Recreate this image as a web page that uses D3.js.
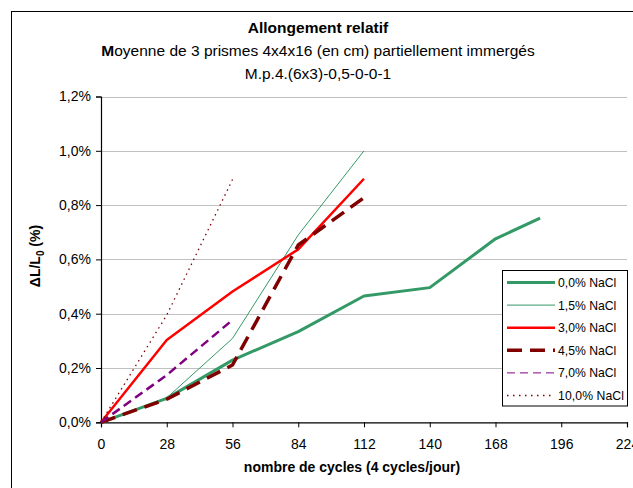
<!DOCTYPE html>
<html>
<head>
<meta charset="utf-8">
<script src="https://cdn.jsdelivr.net/npm/d3@7"></script>
<style>
  html, body { margin: 0; padding: 0; background: #fff; }
  svg { display: block; font-family: "Liberation Sans", Arial, sans-serif; }
</style>
</head>
<body>
<svg id="chart" width="633" height="488"></svg>
<script>
// Relative elongation (% of initial length) versus number of cycles, by NaCl concentration
const seriesNames = ["0,0% NaCl", "1,5% NaCl", "3,0% NaCl", "4,5% NaCl", "7,0% NaCl", "10,0% NaCl"];

const cycles0  = [0, 28, 56, 84, 112, 140, 168, 187];
const values0  = [0, 0.088, 0.229, 0.334, 0.465, 0.496, 0.676, 0.752];

const cycles15 = [0, 28, 56, 84, 112];
const values15 = [0, 0.090, 0.309, 0.690, 1.000];

const cycles30 = [0, 28, 56, 84, 112];
const values30 = [0, 0.303, 0.482, 0.637, 0.897];

const cycles45 = [0, 28, 56, 84, 112];
const values45 = [0, 0.085, 0.211, 0.653, 0.827];

const cycles70 = [0, 28, 56];
const values70 = [0, 0.174, 0.377];

const cycles100 = [0, 28, 56];
const values100 = [0, 0.395, 0.894];

const xTicks = [0, 28, 56, 84, 112, 140, 168, 196, 224];
const yTicks = [0, 0.2, 0.4, 0.6, 0.8, 1.0, 1.2];

const styles = [
  { color: "#339966", width: 3,   dash: null,    legendWidth: 3 },
  { color: "#339966", width: 1,   dash: null,    legendWidth: 1 },
  { color: "#ff0000", width: 2.5, dash: null,    legendWidth: 2.5 },
  { color: "#800000", width: 3.5, dash: "15,8",  legendWidth: 3.5, legendDash: "15,8" },
  { color: "#800080", width: 2.5, dash: "9,5",   legendWidth: 1,   legendDash: "8,5" },
  { color: "#800000", width: 1.3, dash: "1.5,4", legendWidth: 1.3, legendDash: "1.5,4.5" }
];

const series = [
  [cycles0, values0], [cycles15, values15], [cycles30, values30],
  [cycles45, values45], [cycles70, values70], [cycles100, values100]
].map(([xs, ys], i) => ({ name: seriesNames[i], style: styles[i], points: xs.map((c, j) => [c, ys[j]]) }));

const svg = d3.select("#chart");
const plot = { left: 101, right: 627, top: 96.5, bottom: 422.3 };

const x = d3.scaleLinear().domain([0, 224]).range([plot.left, plot.right]);
const y = d3.scaleLinear().domain([0, 1.2]).range([plot.bottom, plot.top]);

const fmtPct = d => d3.format(".1f")(d).replace(".", ",") + "%";

// Chart frame
svg.append("rect")
  .attr("x", 11.5).attr("y", 11.5)
  .attr("width", 640).attr("height", 500)
  .attr("fill", "#fff").attr("stroke", "#000").attr("stroke-width", 1);

// Horizontal gridlines
svg.append("g").selectAll("line").data(yTicks.filter(d => d > 0)).join("line")
  .attr("x1", plot.left).attr("x2", plot.right)
  .attr("y1", d => Math.round(y(d)) + 0.5).attr("y2", d => Math.round(y(d)) + 0.5)
  .attr("stroke", "#c0c0c0").attr("stroke-width", 1);

// Axes
const yAxis = d3.axisLeft(y).tickValues(yTicks).tickFormat(fmtPct).tickSize(5).tickPadding(5);
const xAxis = d3.axisBottom(x).tickValues(xTicks).tickFormat(d3.format("d")).tickSize(5).tickPadding(12);

const gy = svg.append("g").attr("transform", `translate(${plot.left},0)`).call(yAxis);
const gx = svg.append("g").attr("transform", `translate(0,${plot.bottom})`).call(xAxis);
[gx, gy].forEach(g => {
  g.select(".domain").attr("stroke", "#000").attr("stroke-width", 1.2);
  g.selectAll(".tick line").attr("stroke", "#000");
  g.selectAll("text").attr("fill", "#000").attr("font-size", 14)
    .attr("font-family", "'Liberation Sans', Arial, sans-serif");
});

// Series lines
const line = d3.line().x(d => x(d[0])).y(d => y(d[1]));
svg.append("g").selectAll("path").data(series).join("path")
  .attr("d", d => line(d.points))
  .attr("fill", "none")
  .attr("stroke", d => d.style.color)
  .attr("stroke-width", d => d.style.width)
  .attr("stroke-dasharray", d => d.style.dash)
  .attr("stroke-linejoin", "round");

// Titles
const titles = svg.append("g").attr("text-anchor", "middle").attr("fill", "#000");
titles.append("text").attr("x", 318).attr("y", 33)
  .attr("font-size", 15.5).attr("font-weight", "bold").text("Allongement relatif");
const sub = titles.append("text").attr("x", 318).attr("y", 56).attr("font-size", 15.5);
sub.append("tspan").attr("font-weight", "bold").text("M");
sub.append("tspan").text("oyenne de 3 prismes 4x4x16 (en cm) partiellement immergés");
titles.append("text").attr("x", 318).attr("y", 79).attr("font-size", 15.5).text("M.p.4.(6x3)-0,5-0-0-1");

// Axis titles
svg.append("text").attr("x", 352).attr("y", 472).attr("text-anchor", "middle")
  .attr("font-size", 14).attr("font-weight", "bold").text("nombre de cycles (4 cycles/jour)");

const yl = svg.append("text").attr("transform", "translate(40,256) rotate(-90)")
  .attr("text-anchor", "middle").attr("font-size", 14).attr("font-weight", "bold");
yl.append("tspan").text("\u0394L/L");
yl.append("tspan").attr("font-size", 10).attr("dy", 4).text("0");
yl.append("tspan").attr("dy", -4).text(" (%)");

// Legend
const lg = svg.append("g").attr("transform", "translate(502,270)");
lg.append("rect").attr("x", 0.5).attr("y", 0.5).attr("width", 125).attr("height", 135.5)
  .attr("fill", "#fff").attr("stroke", "#000").attr("stroke-width", 1);
const rows = lg.selectAll("g.row").data(series).join("g").attr("class", "row")
  .attr("transform", (d, i) => `translate(0,${12.5 + i * 22.6})`);
rows.append("line").attr("x1", 5).attr("x2", 53).attr("y1", 0).attr("y2", 0)
  .attr("stroke", d => d.style.color)
  .attr("stroke-width", d => d.style.legendWidth)
  .attr("stroke-dasharray", d => d.style.legendDash || null);
rows.append("text").attr("x", 56).attr("y", 4.5).attr("font-size", 12.2).attr("fill", "#000")
  .attr("textLength", d => d.name.length > 9 ? 66 : null)
  .text(d => d.name);
</script>
</body>
</html>
